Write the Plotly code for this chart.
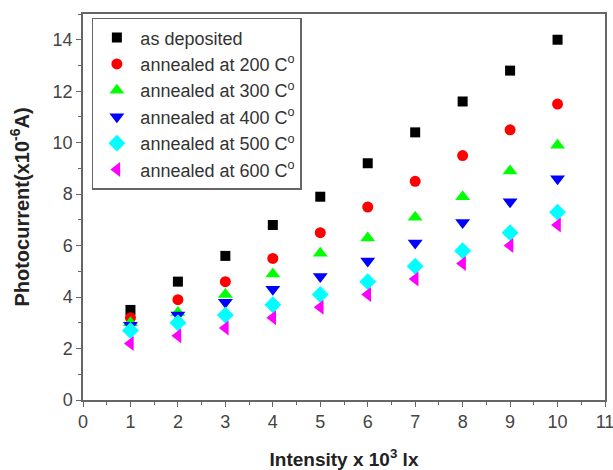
import plotly.graph_objects as go

intensity = [1, 2, 3, 4, 5, 6, 7, 8, 9, 10]
as_deposited = [3.5, 4.6, 5.6, 6.8, 7.9, 9.2, 10.4, 11.6, 12.8, 14.0]
annealed_200 = [3.2, 3.9, 4.6, 5.5, 6.5, 7.5, 8.5, 9.5, 10.5, 11.5]
annealed_300 = [3.0, 3.4, 4.1, 4.9, 5.7, 6.3, 7.1, 7.9, 8.9, 9.9]
annealed_400 = [2.9, 3.3, 3.8, 4.3, 4.8, 5.4, 6.1, 6.9, 7.7, 8.6]
annealed_500 = [2.7, 3.0, 3.3, 3.7, 4.1, 4.6, 5.2, 5.8, 6.5, 7.3]
annealed_600 = [2.2, 2.5, 2.8, 3.2, 3.6, 4.1, 4.7, 5.3, 6.0, 6.8]

series = [
    ("as deposited", as_deposited, "square", "#000000", 10),
    ("annealed at 200 C<sup>o</sup>", annealed_200, "circle", "#ff0000", 11),
    ("annealed at 300 C<sup>o</sup>", annealed_300, "triangle-up", "#00ff00", 13),
    ("annealed at 400 C<sup>o</sup>", annealed_400, "triangle-down", "#0000ff", 13),
    ("annealed at 500 C<sup>o</sup>", annealed_500, "diamond", "#00ffff", 13),
    ("annealed at 600 C<sup>o</sup>", annealed_600, "triangle-left", "#ff00ff", 13),
]

FONT = "Arial, Liberation Sans, sans-serif"

fig = go.Figure()
for i, (name, vals, sym, col, sz) in enumerate(series):
    fig.add_trace(go.Scatter(
        x=intensity, y=vals, mode="markers", name=name, legendgroup=f"g{i}",
        marker=dict(symbol=sym, color=col, size=sz, line=dict(width=0)),
    ))

axis_common = dict(
    showgrid=False, zeroline=False, showline=True, linecolor="#666666", linewidth=1.5,
    mirror=True, ticks="outside", ticklen=5, tickwidth=1.2, tickcolor="#666666",
    tickfont=dict(family=FONT, size=18, color="#444444"), automargin=False,
)

fig.update_xaxes(
    range=[0, 11], dtick=1, tick0=0, ticklabeloverflow="allow",
    minor=dict(dtick=0.5, ticks="outside", ticklen=3, tickcolor="#666666"),
    title=dict(text="<b>Intensity x 10<sup>3</sup> lx</b>",
               font=dict(family=FONT, size=19, color="#222222"), standoff=22),
    **axis_common,
)
fig.update_yaxes(
    range=[0, 15], dtick=2, tick0=0,
    minor=dict(dtick=1, ticks="outside", ticklen=3, tickcolor="#666666"),
    title=dict(text="<b>Photocurrent(x10<sup>-6</sup>A)</b>",
               font=dict(family=FONT, size=20, color="#222222"), standoff=18),
    **axis_common,
)

fig.update_layout(
    width=613, height=470,
    margin=dict(l=83, r=8, t=14, b=70),
    plot_bgcolor="white", paper_bgcolor="white",
    showlegend=True,
    legend=dict(
        x=0.017, y=0.99, xanchor="left", yanchor="top",
        bordercolor="#666666", borderwidth=1.5, bgcolor="white",
        font=dict(family=FONT, size=18, color="#333333"),
        itemwidth=37, tracegroupgap=0,
    ),
)

fig.write_html("out.html", config={"displayModeBar": False},
               post_script="document.body.style.margin='0px';")
